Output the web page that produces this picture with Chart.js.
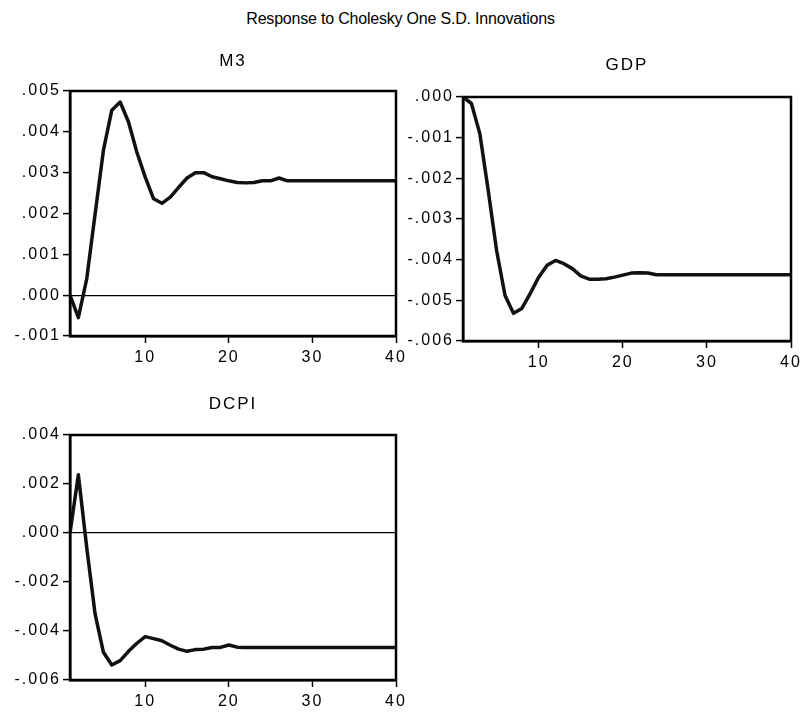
<!DOCTYPE html>
<html>
<head>
<meta charset="utf-8">
<script src="https://cdn.jsdelivr.net/npm/chart.js@4/dist/chart.umd.min.js"></script>
<style>
  body { margin: 0; background: #fff; }
  #wrap { position: relative; width: 801px; height: 714px; overflow: hidden; }
  #mainTitle {
    position: absolute; left: 0; top: 10px; width: 801px; text-align: center;
    font: 16px "Liberation Sans", Arial, sans-serif; color: #000; letter-spacing: -0.2px;
  }
  canvas { position: absolute; }
</style>
</head>
<body>
<div id="wrap">
  <div id="mainTitle">Response to Cholesky One S.D. Innovations</div>
  <canvas id="m3" style="left:0;top:50px" width="414" height="320"></canvas>
  <canvas id="gdp" style="left:395px;top:50px" width="414" height="325"></canvas>
  <canvas id="dcpi" style="left:0;top:390px" width="414" height="324"></canvas>
</div>
<script>
const periods = Array.from({ length: 40 }, (_, i) => i + 1);
const xTicks = [10, 20, 30, 40];

const m3Values = [
  0, -0.00055, 0.0004, 0.00198, 0.00355, 0.00453, 0.00473, 0.00424, 0.0035, 0.00289,
  0.00236, 0.00225, 0.0024, 0.00264, 0.00287, 0.0030, 0.0030, 0.0029, 0.00285, 0.0028,
  0.00276, 0.00275, 0.00276, 0.0028, 0.0028, 0.00287, 0.0028, 0.0028, 0.0028, 0.0028,
  0.0028, 0.0028, 0.0028, 0.0028, 0.0028, 0.0028, 0.0028, 0.0028, 0.0028, 0.0028
];
const gdpValues = [
  0, -0.00016, -0.0009, -0.0023, -0.00378, -0.00488, -0.00532, -0.0052, -0.00483, -0.00443,
  -0.00414, -0.00402, -0.0041, -0.00422, -0.0044, -0.00448, -0.00448, -0.00447, -0.00443, -0.00438,
  -0.00433, -0.00432, -0.00433, -0.00437, -0.00437, -0.00437, -0.00437, -0.00437, -0.00437, -0.00437,
  -0.00437, -0.00437, -0.00437, -0.00437, -0.00437, -0.00437, -0.00437, -0.00437, -0.00437, -0.00437
];
const dcpiValues = [
  0, 0.00238, -0.00059, -0.0033, -0.00487, -0.00539, -0.00521, -0.00483, -0.0045, -0.00423,
  -0.00431, -0.0044, -0.00458, -0.00474, -0.00483, -0.00476, -0.00474, -0.00467, -0.00467, -0.00457,
  -0.00466, -0.00467, -0.00467, -0.00467, -0.00467, -0.00467, -0.00467, -0.00467, -0.00467, -0.00467,
  -0.00467, -0.00467, -0.00467, -0.00467, -0.00467, -0.00467, -0.00467, -0.00467, -0.00467, -0.00467
];

const m3Ticks = [-0.001, 0, 0.001, 0.002, 0.003, 0.004, 0.005];
const gdpTicks = [-0.006, -0.005, -0.004, -0.003, -0.002, -0.001, 0];
const dcpiTicks = [-0.006, -0.004, -0.002, 0, 0.002, 0.004];

const FONT = "'Liberation Sans', Arial, sans-serif";

// the original text is rendered wide, so spread the letters a bit
const spacingPlugin = {
    id: 'spacing',
    afterInit(chart) { chart.ctx.letterSpacing = '2px'; },
    beforeDraw(chart) { chart.ctx.letterSpacing = '2px'; }
};

// box around the plot area, like the original
const framePlugin = {
    id: 'frame',
    afterDraw(chart) {
        const { ctx, chartArea: a } = chart;
        ctx.save();
        ctx.strokeStyle = '#000';
        ctx.lineWidth = 2.5;
        ctx.strokeRect(a.left, a.top, a.right - a.left, a.bottom - a.top);
        ctx.restore();
    }
};

function fmt(v) {
    if (Math.abs(v) < 1e-9) return '.000';
    return v.toFixed(3).replace('0.', '.');
}

function makePanel(id, title, values, yTicks, opts) {
    new Chart(document.getElementById(id), {
        type: 'line',
        data: {
            datasets: [{
                data: periods.map((p, i) => ({ x: p, y: values[i] })),
                borderColor: '#111',
                borderWidth: 3.5,
                borderJoinStyle: 'round',
                pointRadius: 0,
                tension: 0
            }]
        },
        options: {
            responsive: false,
            animation: false,
            layout: { padding: { left: 0, right: opts.right, top: 0, bottom: 0 } },
            plugins: {
                legend: { display: false },
                tooltip: { enabled: false },
                title: {
                    display: true,
                    text: title,
                    fullSize: false,
                    color: '#000',
                    font: { family: FONT, size: 17, weight: 'normal' },
                    padding: { top: opts.titleTop, bottom: opts.titleBottom }
                }
            },
            scales: {
                x: {
                    type: 'linear',
                    min: 1,
                    max: 40,
                    afterBuildTicks: s => { s.ticks = xTicks.map(v => ({ value: v })); },
                    afterFit: s => { s.height = 34; },
                    grid: { drawOnChartArea: false, tickLength: 7, tickColor: '#000', tickWidth: 1.5 },
                    border: { color: '#000', width: 2.5 },
                    ticks: { color: '#000', padding: 5, maxRotation: 0, font: { family: FONT, size: 16 } }
                },
                y: {
                    min: yTicks[0],
                    max: yTicks[yTicks.length - 1],
                    afterBuildTicks: s => { s.ticks = yTicks.map(v => ({ value: v })); },
                    afterFit: s => { s.width = opts.yWidth; },
                    grid: {
                        color: c => (c.tick && Math.abs(c.tick.value) < 1e-9 ? '#000' : 'rgba(0,0,0,0)'),
                        lineWidth: 1.2,
                        tickLength: 7,
                        tickColor: '#000',
                        tickWidth: 1.5
                    },
                    border: { color: '#000', width: 2.5 },
                    ticks: {
                        color: '#000',
                        padding: 2,
                        font: { family: FONT, size: 16 },
                        callback: v => fmt(v)
                    }
                }
            }
        },
        plugins: [spacingPlugin, framePlugin]
    });
}

makePanel('m3', 'M3', m3Values, m3Ticks, { right: 18, yWidth: 70, titleTop: 0.8, titleBottom: 19.8 });
makePanel('gdp', 'GDP', gdpValues, gdpTicks, { right: 18, yWidth: 68, titleTop: 5.3, titleBottom: 21.3 });
makePanel('dcpi', 'DCPI', dcpiValues, dcpiTicks, { right: 18, yWidth: 70, titleTop: 4.3, titleBottom: 20.3 });
</script>
</body>
</html>
